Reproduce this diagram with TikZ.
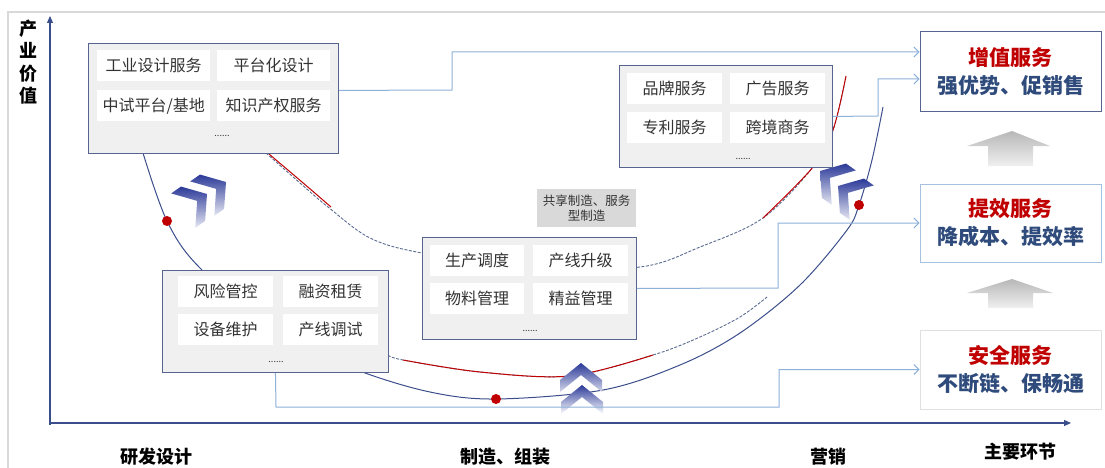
\documentclass[tikz,border=0pt]{standalone}
\usepackage{fontspec}
\setmainfont{Noto Sans CJK SC}
\usetikzlibrary{arrows.meta,calc}
\definecolor{boxc}{HTML}{56648F}
\definecolor{boxfill}{HTML}{F0F0F0}
\definecolor{connc}{HTML}{8EB1D9}
\definecolor{axisc}{HTML}{3B4E8C}
\definecolor{redc}{HTML}{C00000}
\definecolor{bluet}{HTML}{2F4B7C}
\definecolor{txt}{HTML}{333333}
\definecolor{chev}{HTML}{2B3A98}
\definecolor{dashc}{HTML}{5A6A90}
\definecolor{framec}{HTML}{D9D9D9}
\newcommand\chevpath{(0,0) -- (21,17) -- (21,29) -- (0,12) -- (-21,29) -- (-21,17) -- cycle}
\begin{document}
\begin{tikzpicture}[x=1pt,y=-1pt,
  bigbox/.style={draw=boxc, fill=boxfill, line width=0.9pt, inner sep=0pt, anchor=north west},
  cell/.style={fill=white, inner sep=0pt, anchor=north west, minimum height=31pt, font=\fontsize{16}{16}\selectfont, text=txt},
  dotsl/.style={font=\fontsize{9}{9}\selectfont, text=txt, inner sep=0pt},
  connector/.style={draw=connc, line width=1pt, -{Straight Barb[length=5pt,width=10pt]}},
  rbox/.style={line width=1pt, fill=white, fill opacity=0.85, text opacity=1, minimum width=181pt, inner sep=0pt, align=center, font=\bfseries\fontsize{21}{28}\selectfont},
  axisl/.style={font=\bfseries\fontsize{18}{18}\selectfont, text=black, inner sep=0pt},
  axisline/.style={draw=axisc, line width=1.2pt, -{Triangle[length=7pt,width=6pt]}},
  solidc/.style={draw=axisc, line width=1pt},
  dashcurve/.style={draw=dashc, line width=0.9pt, dash pattern=on 3pt off 1.5pt},
  redcurve/.style={draw=redc, line width=1pt},
  reddot/.style={fill=redc, draw=none}
]
\useasboundingbox (0,0) rectangle (1105,468);
% frame
\draw[framec, line width=1.5pt] (8,468) -- (8,12) -- (1105,12);
% axes
\draw[axisline] (50,425) -- (50,16);
\draw[axisline] (49,423) -- (1071,423);
\node[axisl, align=center, font=\bfseries\fontsize{18}{22.5}\selectfont] (ylab) at (28,62) {产\\业\\价\\值};
\node[axisl] (xl1) at (156,457) {研发设计};
\node[axisl] (xl2) at (505,457) {制造、组装};
\node[axisl] (xl3) at (828,457) {营销};
\node[axisl] (xl4) at (1020,452) {主要环节};

% curves
\draw[solidc] plot[smooth, tension=0.55] coordinates {(143,153) (167,221) (200,268) (280,335) (357,370) (430,392) (496,399) (603,390) (680,365) (740,333) (800,285) (847,230) (859,205) (872,160) (883,107)};
\draw[dashcurve] plot[smooth, tension=0.55] coordinates {(266,153) (300,183) (328,207) (370,238) (422,253) (530,268) (640,267) (700,247) (763,218) (813,167) (833,130) (846,76)};
\draw[redcurve] plot[smooth, tension=0.55] coordinates {(269,154) (302,182) (331,207)};
\draw[redcurve] plot[smooth, tension=0.55] coordinates {(763,218) (813,167) (833,130) (846,76)};
\draw[dashcurve] plot[smooth, tension=0.55] coordinates {(388,355) (403,360) (480,372) (570,376) (653,355) (700,337) (740,317) (767,297)};
\draw[redcurve] plot[smooth, tension=0.55] coordinates {(403,360) (480,372) (570,376) (653,355)};

% red dots
\fill[reddot] (167,221) circle (5pt);
\fill[reddot] (496,399) circle (5pt);
\fill[reddot] (859,205) circle (5pt);

% chevrons
\begin{scope}[shift={(207,194)}, rotate=-55]
  \shade[top color=chev, bottom color=chev!12] \chevpath;
\end{scope}
\begin{scope}[shift={(226,182)}, rotate=-55]
  \shade[top color=chev, bottom color=chev!12] \chevpath;
\end{scope}
\begin{scope}[shift={(838,186)}, rotate=55]
  \shade[top color=chev, bottom color=chev!12] \chevpath;
\end{scope}
\begin{scope}[shift={(820,171)}, rotate=55]
  \shade[top color=chev, bottom color=chev!12] \chevpath;
\end{scope}
\begin{scope}[shift={(582,385)}]
  \shade[top color=chev, bottom color=white] \chevpath;
\end{scope}
\begin{scope}[shift={(581,363)}]
  \shade[top color=chev, bottom color=chev!20] \chevpath;
\end{scope}

% box 1
\node[bigbox, minimum width=250pt, minimum height=110pt] (b1) at (88,43) {};
\node[cell, minimum width=113pt] (b1a) at (97,50) {工业设计服务};
\node[cell, minimum width=113pt] (b1b) at (217,50) {平台化设计};
\node[cell, minimum width=113pt] (b1c) at (97,90) {中试平台/基地};
\node[cell, minimum width=113pt] (b1d) at (217,90) {知识产权服务};
\node[dotsl] (b1e) at (222,136) {......};
% box 2
\node[bigbox, minimum width=213pt, minimum height=102pt] (b2) at (619,65) {};
\node[cell, minimum width=95pt] (b2a) at (627,73) {品牌服务};
\node[cell, minimum width=95pt] (b2b) at (730,73) {广告服务};
\node[cell, minimum width=95pt] (b2c) at (627,112) {专利服务};
\node[cell, minimum width=95pt] (b2d) at (730,112) {跨境商务};
\node[dotsl] (b2e) at (743,159) {......};
% box 3
\node[bigbox, minimum width=214pt, minimum height=102pt] (b3) at (422,237) {};
\node[cell, minimum width=94pt] (b3a) at (430,245) {生产调度};
\node[cell, minimum width=95pt] (b3b) at (533,245) {产线升级};
\node[cell, minimum width=94pt] (b3c) at (430,283) {物料管理};
\node[cell, minimum width=95pt] (b3d) at (533,283) {精益管理};
\node[dotsl] (b3e) at (530,331) {......};
% box 4
\node[bigbox, minimum width=226pt, minimum height=102pt] (b4) at (162,270) {};
\node[cell, minimum width=95pt] (b4a) at (178,276) {风险管控};
\node[cell, minimum width=95pt] (b4b) at (283,276) {融资租赁};
\node[cell, minimum width=95pt] (b4c) at (178,314) {设备维护};
\node[cell, minimum width=95pt] (b4d) at (283,314) {产线调试};
\node[dotsl] (b4e) at (276,362) {......};

% shared label
\node[fill=framec, minimum width=99pt, minimum height=38pt, inner sep=0pt, align=center, font=\fontsize{12.5}{15}\selectfont, text=txt] (share) at (586.5,208) {共享制造、服务\\型制造};

% grey arrows
\shade[top color=black!28, bottom color=black!6] (1012,131) -- (1050,146) -- (1033,146) -- (1033,166) -- (988,166) -- (988,146) -- (967,146) -- cycle;
\shade[top color=black!28, bottom color=black!6] (1012,279) -- (1053,293) -- (1033,293) -- (1033,308) -- (988,308) -- (988,293) -- (967,293) -- cycle;

% right boxes
\node[rbox, draw=boxc, minimum height=80pt] (r1) at (1010.5,72) {\textcolor{redc}{增值服务}\\\textcolor{bluet}{强优势、促销售}};
\node[rbox, draw=connc!80, minimum height=78pt] (r2) at (1010.5,223) {\textcolor{redc}{提效服务}\\\textcolor{bluet}{降成本、提效率}};
\node[rbox, draw=black!12, minimum height=79pt] (r3) at (1010.5,369.5) {\textcolor{redc}{安全服务}\\\textcolor{bluet}{不断链、保畅通}};

% connectors
\draw[connector] ($(b1.east)+(0,-8)$) -- (452,90) -- (452,52) -- ($(r1.west)+(0,-20)$);
\draw[connector] (b2.east) -- (878,116) -- (878,79) -- ($(r1.west)+(0,7)$);
\draw[connector] (b3.east) -- (778,288) -- (778,223) -- (r2.west);
\draw[connector] (b4.south) -- (276,407) -- (779,407) -- (779,369.5) -- (r3.west);
\end{tikzpicture}
\end{document}
